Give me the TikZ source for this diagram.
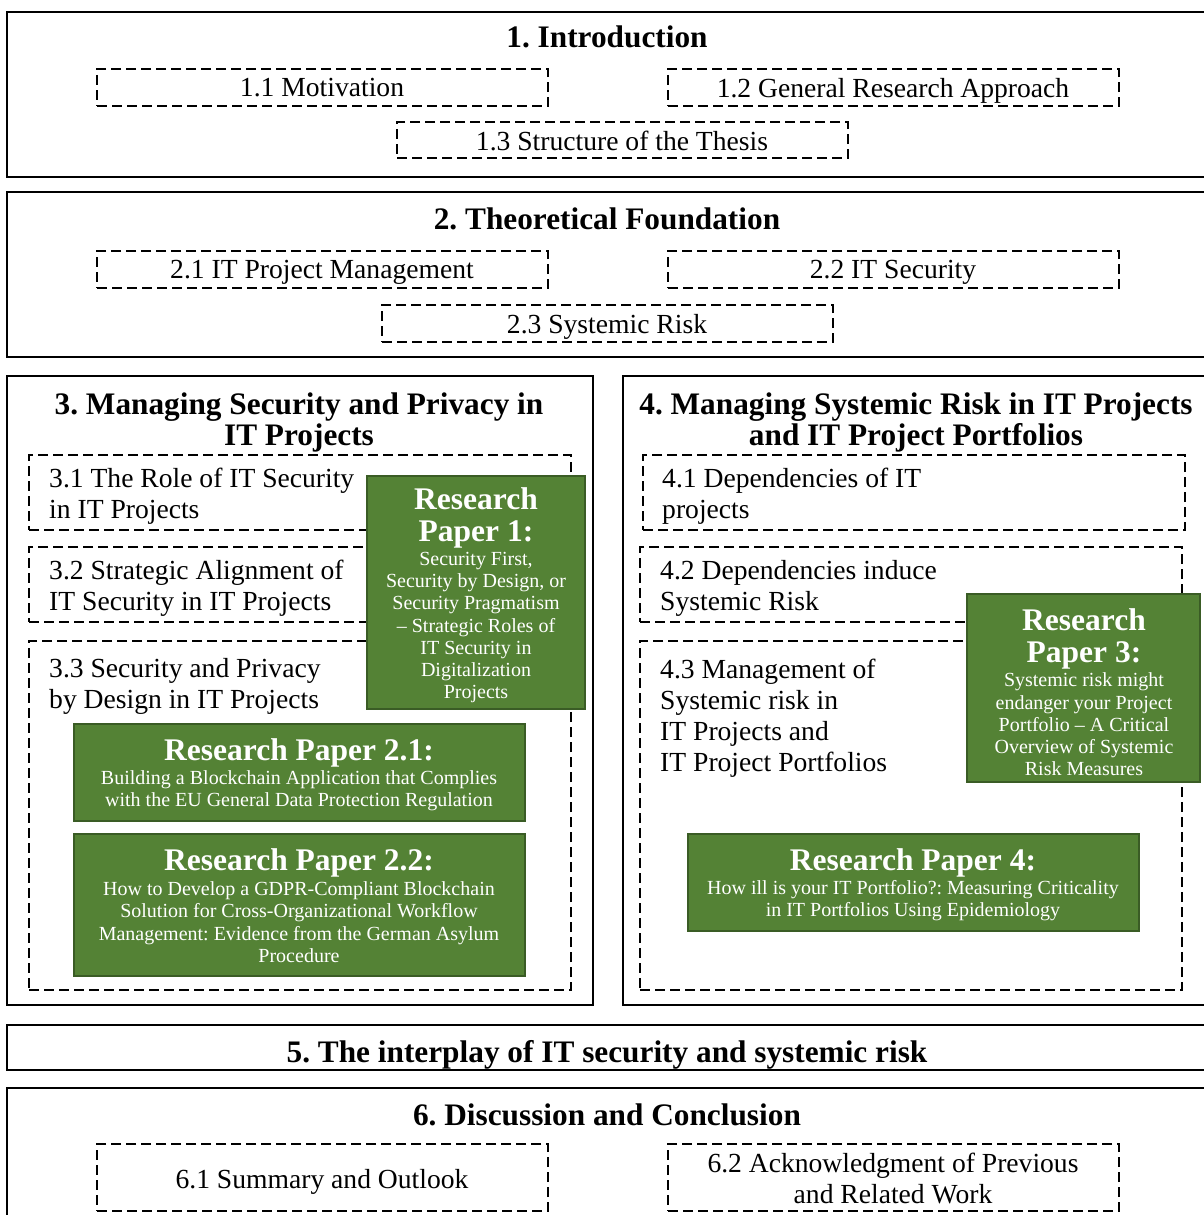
\documentclass[tikz,border=0pt]{standalone}
\usepackage{fontspec}
\setmainfont{Liberation Serif}
\usetikzlibrary{fit}
\definecolor{paperg}{RGB}{84,130,53}
\definecolor{paperd}{RGB}{58,92,37}
\tikzset{
  sect/.style={draw=black, line width=2.2pt, inner sep=0pt},
  sub/.style={draw=black, line width=2.3pt, dash pattern=on 10pt off 5pt, inner sep=0pt},
  paper/.style={fill=paperg, draw=paperd, line width=1.6pt, inner sep=0pt},
  lbl/.style={inner sep=0pt, execute at begin node=\frenchspacing},
  low/.style={yshift=-2.5pt},
  ttl/.style={lbl, font=\fontsize{31.3}{31}\selectfont\bfseries, align=center},
  txt/.style={lbl, font=\fontsize{27.6}{31}\selectfont},
  txl/.style={txt, low, align=left, anchor=west},
  txc/.style={txt, align=center},
  ptl/.style={lbl, low, text=white, font=\fontsize{31.5}{32}\selectfont\bfseries, align=center},
  ptx/.style={lbl, low, text=white, font=\fontsize{20}{22.3}\selectfont, align=center},
}
\begin{document}
\begin{tikzpicture}[x=1pt, y=-1pt]
\useasboundingbox (0,0) rectangle (1203,1215);

% --- 1. Introduction
\node[sect, fit={(7,12) (1212,177)}] (s1) {};
\node[ttl] (s1t) at (607,37) {1. Introduction};
\node[sub, fit={(97,69) (548,106)}] (s11) {};
\node[txc] (s11t) at (322,88) {1.1 Motivation};
\node[sub, fit={(668,69) (1119,106)}] (s12) {};
\node[txc, low] (s12t) at (893,88) {1.2 General Research Approach};
\node[sub, fit={(397,122) (848,158)}] (s13) {};
\node[txc] (s13t) at (622,141) {1.3 Structure of the Thesis};

% --- 2. Theoretical Foundation
\node[sect, fit={(7,192) (1212,357)}] (s2) {};
\node[ttl] (s2t) at (607,219) {2. Theoretical Foundation};
\node[sub, fit={(97,251) (548,288)}] (s21) {};
\node[txc, low] (s21t) at (322,270) {2.1 IT Project Management};
\node[sub, fit={(668,251) (1119,288)}] (s22) {};
\node[txc, low] (s22t) at (893,270) {2.2 IT Security};
\node[sub, fit={(382,305) (833,342)}] (s23) {};
\node[txc, low] (s23t) at (607,324) {2.3 Systemic Risk};

% --- 3. Security and privacy
\node[sect, fit={(7,376) (593,1005)}] (s3) {};
\node[ttl, low] (s3t) at (299,419.5) {3. Managing Security and Privacy in\\IT Projects};
\node[sub, fit={(29,455) (571,530)}] (s31) {};
\node[txl] (s31t) at (49,493.5) {3.1 The Role of IT Security\\in IT Projects};
\node[sub, fit={(29,547) (571,622)}] (s32) {};
\node[txl] (s32t) at (49,586) {3.2 Strategic Alignment of\\IT Security in IT Projects};
\node[sub, fit={(29,641) (571,990)}] (s33) {};
\node[txl] (s33t) at (49,683.5) {3.3 Security and Privacy\\by Design in IT Projects};

\node[paper, fit={(367,476) (585,709)}] (rp1) {};
\node[ptl] (rp1t) at (476,515) {Research\\Paper 1:};
\node[ptx] (rp1x) at (476,625) {Security First,\\Security by Design, or\\Security Pragmatism\\-- Strategic Roles of\\IT Security in\\Digitalization\\Projects};

\node[paper, fit={(74,724) (525,821)}] (rp21) {};
\node[ptl] (rp21t) at (299,750) {Research Paper 2.1:};
\node[ptx] (rp21x) at (299,788) {Building a Blockchain Application that Complies\\with the EU General Data Protection Regulation};

\node[paper, fit={(74,834) (525,976)}] (rp22) {};
\node[ptl] (rp22t) at (299,860) {Research Paper 2.2:};
\node[ptx] (rp22x) at (299,919.5) {How to Develop a GDPR-Compliant Blockchain\\Solution for Cross-Organizational Workflow\\Management: Evidence from the German Asylum\\Procedure};

% --- 4. Systemic risk
\node[sect, fit={(623,376) (1212,1005)}] (s4) {};
\node[ttl, low] (s4t) at (916,419.5) {4. Managing Systemic Risk in IT Projects\\and IT Project Portfolios};
\node[sub, fit={(643,455) (1185,530)}] (s41) {};
\node[txl] (s41t) at (662,493.5) {4.1 Dependencies of IT\\projects};
\node[sub, fit={(640,547) (1182,622)}] (s42) {};
\node[txl] (s42t) at (660,586) {4.2 Dependencies induce\\Systemic Risk};
\node[sub, fit={(640,641) (1182,990)}] (s43) {};
\node[txl] (s43t) at (660,715.5) {4.3 Management of\\Systemic risk in\\IT Projects and\\IT Project Portfolios};

\node[paper, fit={(967,594) (1200,782)}] (rp3) {};
\node[ptl] (rp3t) at (1084,636) {Research\\Paper 3:};
\node[ptx] (rp3x) at (1084,722) {Systemic risk might\\endanger your Project\\Portfolio -- A Critical\\Overview of Systemic\\Risk Measures};

\node[paper, fit={(688,834) (1139,931)}] (rp4) {};
\node[ptl] (rp4t) at (913,860) {Research Paper 4:};
\node[ptx] (rp4x) at (913,898) {How ill is your IT Portfolio?: Measuring Criticality\\in IT Portfolios Using Epidemiology};

% --- 5. Interplay
\node[sect, fit={(7,1025) (1212,1070)}] (s5) {};
\node[ttl, low] (s5t) at (607,1052) {5. The interplay of IT security and systemic risk};

% --- 6. Discussion
\node[sect, fit={(7,1088) (1212,1230)}] (s6) {};
\node[ttl] (s6t) at (607,1115) {6. Discussion and Conclusion};
\node[sub, fit={(97,1144) (548,1211)}] (s61) {};
\node[txc, low] (s61t) at (322,1179) {6.1 Summary and Outlook};
\node[sub, fit={(668,1144) (1119,1211)}] (s62) {};
\node[txc] (s62t) at (893,1178.5) {6.2 Acknowledgment of Previous\\and Related Work};
\end{tikzpicture}
\end{document}
